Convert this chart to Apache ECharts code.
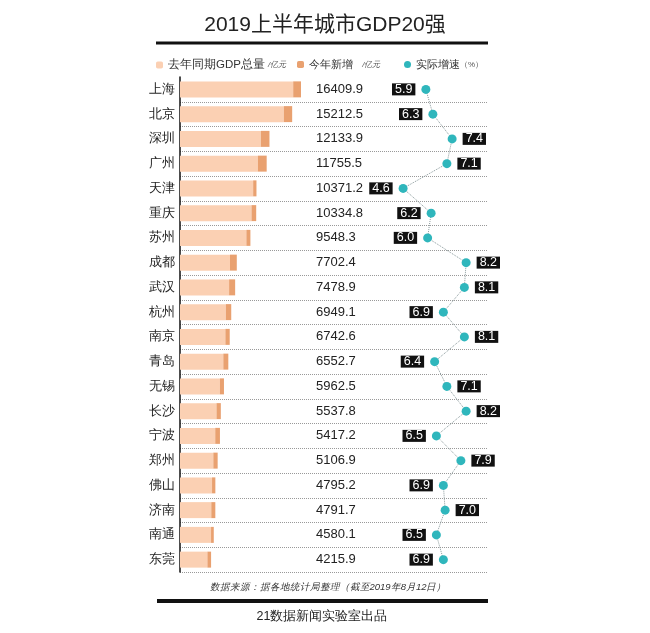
<!DOCTYPE html>
<html>
<head>
<meta charset="utf-8">
<script src="https://cdn.jsdelivr.net/npm/echarts@6/dist/echarts.min.js"></script>
<style>html,body{margin:0;padding:0;background:#fff;}#c{width:650px;height:633px;}</style>
</head>
<body>
<div id="c"></div>
<script>
var cities = ['上海','北京','深圳','广州','天津','重庆','苏州','成都','武汉','杭州','南京','青岛','无锡','长沙','宁波','郑州','佛山','济南','南通','东莞'];
var gdpTotal = [16409.9,15212.5,12133.9,11755.5,10371.2,10334.8,9548.3,7702.4,7478.9,6949.1,6742.6,6552.7,5962.5,5537.8,5417.2,5106.9,4795.2,4791.7,4580.1,4215.9];
var newIncrease = [1060,1130,1170,1190,450,640,550,920,820,730,590,680,550,590,640,590,450,550,370,500];
var growth = [5.9,6.3,7.4,7.1,4.6,6.2,6.0,8.2,8.1,6.9,8.1,6.4,7.1,8.2,6.5,7.9,6.9,7.0,6.5,6.9];

var lastYear = gdpTotal.map(function(v,i){return +(v-newIncrease[i]).toFixed(1);});
var numFont = "'Liberation Sans Narrow','Arial Narrow',Arial,sans-serif";

var chart = echarts.init(document.getElementById('c'));
chart.setOption({
  backgroundColor:'#fff',
  animation:false,
  title:{text:'2019上半年城市GDP20强',left:'center',top:10,textStyle:{fontSize:21,fontWeight:'normal',color:'#222',fontFamily:"Arial,'Noto Sans CJK SC',sans-serif"}},
  legend:[
    {data:['去年同期GDP总量'],left:151,top:54,itemWidth:7,itemHeight:7,
     formatter:function(n){return n+' {u|/亿元}';},
     textStyle:{fontSize:11.5,color:'#333',rich:{u:{fontSize:8,fontStyle:'italic',color:'#555'}}}},
    {data:['今年新增'],left:292,top:54,itemWidth:7,itemHeight:7,
     formatter:function(n){return n+'   {u|/亿元}';},
     textStyle:{fontSize:11,color:'#333',rich:{u:{fontSize:8,fontStyle:'italic',color:'#555'}}}},
    {data:[{name:'实际增速',icon:'circle'}],left:399,top:54,itemWidth:7,itemHeight:7,itemGap:0,
     formatter:function(n){return n+'{u|（%）}';},
     textStyle:{fontSize:11,color:'#333',rich:{u:{fontSize:8,color:'#555'}}}}
  ],
  graphic:[
    {type:'rect',shape:{x:156,y:41.5,width:332,height:3},style:{fill:'#111'}},
    {type:'rect',shape:{x:157,y:599,width:331,height:4},style:{fill:'#111'}},
    {type:'text',x:328,y:587,style:{text:'数据来源：据各地统计局整理（截至2019年8月12日）',fontSize:9.5,fontStyle:'italic',fill:'#333',align:'center',verticalAlign:'middle'}},
    {type:'text',x:322,y:617,style:{text:'21数据新闻实验室出品',fontSize:12.5,fill:'#222',align:'center',verticalAlign:'middle'}}
  ],
  grid:{left:180,right:162,top:77,height:495},
  yAxis:{type:'category',data:cities,inverse:true,
    axisLine:{lineStyle:{color:'#111',width:1.5}},axisTick:{show:false},
    axisLabel:{fontSize:13,color:'#222',margin:5},
    splitLine:{show:true,interval:function(i){return i!==0;},lineStyle:{type:'dotted',color:'#999',width:1}}},
  xAxis:[
    {type:'value',min:0,max:41770,show:false},
    {type:'value',min:-8.15,max:9.45,show:false}
  ],
  series:[
    {name:'去年同期GDP总量',type:'bar',stack:'g',xAxisIndex:0,barWidth:16,data:lastYear,
     itemStyle:{color:'#fbd0b3'},
     label:{show:true,position:[136,'50%'],align:'left',verticalAlign:'middle',fontSize:13,color:'#222',fontFamily:numFont,
       formatter:function(p){return gdpTotal[p.dataIndex].toFixed(1);}}},
    {name:'今年新增',type:'bar',stack:'g',xAxisIndex:0,barWidth:16,data:newIncrease,
     itemStyle:{color:'#e9a170'}},
    {name:'实际增速',type:'line',xAxisIndex:1,z:5,
     data:growth.map(function(v){return {value:v,label:{position:v>=7?'right':'left'}};}),
     symbol:'circle',symbolSize:9,
     itemStyle:{color:'#2fb6bc'},
     lineStyle:{type:'dotted',color:'#8a9a9c',width:1},
     label:{show:true,distance:6,fontSize:12.5,lineHeight:12,color:'#fff',backgroundColor:'#111',padding:[0,3,0,3],fontFamily:numFont,
       formatter:function(p){return p.value.toFixed(1);}}}
  ]
});
</script>
</body>
</html>
